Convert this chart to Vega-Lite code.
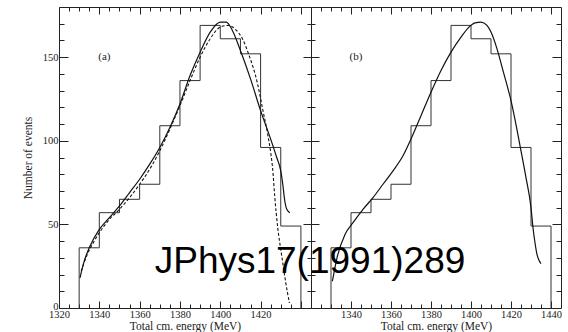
{
  "$schema": "https://vega.github.io/schema/vega-lite/v6.json",
  "background": "white",
  "padding": {"left": 21, "top": 6, "right": 0, "bottom": 0},
  "spacing": 0,
  "bounds": "flush",
  "datasets": {
    "hist": [
      {"E": 1330, "n": 0, "k": 0}, {"E": 1330, "n": 36, "k": 1}, {"E": 1340, "n": 57, "k": 2},
      {"E": 1350, "n": 65, "k": 3}, {"E": 1360, "n": 74, "k": 4}, {"E": 1370, "n": 109, "k": 5},
      {"E": 1380, "n": 136, "k": 6}, {"E": 1390, "n": 169, "k": 7}, {"E": 1400, "n": 161, "k": 8},
      {"E": 1410, "n": 152, "k": 9}, {"E": 1420, "n": 96, "k": 10}, {"E": 1430, "n": 49, "k": 11},
      {"E": 1440, "n": 49, "k": 12}, {"E": 1440, "n": 0, "k": 13}
    ],
    "fitA1": [
      {"E": 1330.4, "n": 18}, {"E": 1332.5, "n": 28}, {"E": 1335, "n": 36}, {"E": 1340, "n": 47},
      {"E": 1345, "n": 54}, {"E": 1350, "n": 61}, {"E": 1355, "n": 69}, {"E": 1360, "n": 77},
      {"E": 1365, "n": 86}, {"E": 1370, "n": 96}, {"E": 1375, "n": 108}, {"E": 1380, "n": 122},
      {"E": 1385, "n": 139}, {"E": 1390, "n": 153}, {"E": 1395, "n": 165}, {"E": 1400, "n": 171},
      {"E": 1403, "n": 171}, {"E": 1406, "n": 166}, {"E": 1410, "n": 154}, {"E": 1415, "n": 137},
      {"E": 1420, "n": 118}, {"E": 1425, "n": 101}, {"E": 1428, "n": 90}, {"E": 1430, "n": 82},
      {"E": 1431, "n": 74}, {"E": 1432, "n": 64}, {"E": 1433, "n": 59}, {"E": 1434.5, "n": 57}
    ],
    "fitA2": [
      {"E": 1331, "n": 22}, {"E": 1334, "n": 32}, {"E": 1337, "n": 39}, {"E": 1340, "n": 45},
      {"E": 1345, "n": 53}, {"E": 1350, "n": 59}, {"E": 1355, "n": 66}, {"E": 1360, "n": 74},
      {"E": 1365, "n": 83}, {"E": 1370, "n": 94}, {"E": 1375, "n": 107}, {"E": 1380, "n": 121},
      {"E": 1385, "n": 136}, {"E": 1390, "n": 150}, {"E": 1395, "n": 161}, {"E": 1400, "n": 168},
      {"E": 1404, "n": 169}, {"E": 1408, "n": 166}, {"E": 1411, "n": 161}, {"E": 1414, "n": 152},
      {"E": 1418.5, "n": 134}, {"E": 1421, "n": 119}, {"E": 1423.5, "n": 104}, {"E": 1425, "n": 93},
      {"E": 1426, "n": 83}, {"E": 1427, "n": 67}, {"E": 1428.5, "n": 48}, {"E": 1430, "n": 35},
      {"E": 1431, "n": 27}, {"E": 1432.5, "n": 15}, {"E": 1434.3, "n": 3}
    ],
    "fitB": [
      {"E": 1330.7, "n": 16}, {"E": 1333, "n": 30}, {"E": 1337, "n": 44}, {"E": 1341, "n": 51},
      {"E": 1346, "n": 59}, {"E": 1351, "n": 66}, {"E": 1356, "n": 74}, {"E": 1361, "n": 82},
      {"E": 1366, "n": 91}, {"E": 1370, "n": 101}, {"E": 1375, "n": 115}, {"E": 1380, "n": 129},
      {"E": 1385, "n": 142}, {"E": 1390, "n": 153}, {"E": 1395, "n": 162}, {"E": 1399, "n": 168},
      {"E": 1402, "n": 170.5}, {"E": 1405, "n": 171}, {"E": 1408, "n": 169}, {"E": 1410, "n": 165},
      {"E": 1413, "n": 155}, {"E": 1416, "n": 142}, {"E": 1420, "n": 124}, {"E": 1425, "n": 94},
      {"E": 1427.5, "n": 78}, {"E": 1430, "n": 60}, {"E": 1431, "n": 48}, {"E": 1432, "n": 39},
      {"E": 1433, "n": 32}, {"E": 1434, "n": 28.5}, {"E": 1435, "n": 26.5}
    ],
    "labA": [{"E": 1342.5, "n": 150, "t": "(a)"}],
    "labB": [{"E": 1342.5, "n": 150, "t": "(b)"}],
    "stamp": [{"E": 1319.5, "n": 21, "t": "JPhys17(1991)289"}]
  },
  "hconcat": [
    {
      "width": 252,
      "height": 301,
      "resolve": {"axis": {"x": "independent", "y": "independent"}},
      "layer": [
        {
          "data": {"name": "hist"},
          "mark": {"type": "line", "interpolate": "step-after", "color": "#333", "strokeWidth": 1},
          "encoding": {
            "x": {"field": "E", "type": "quantitative",
              "scale": {"domain": [1320, 1445], "nice": false, "zero": false},
              "axis": {"orient": "bottom", "format": "d",
                "values": [1320,1325,1330,1335,1340,1345,1350,1355,1360,1365,1370,1375,1380,1385,1390,1395,1400,1405,1410,1415,1420,1425,1430,1435,1440],
                "labelExpr": "datum.value % 20 === 0 && datum.value < 1430 ? datum.label : ''",
                "tickSize": {"condition": {"test": "datum.value % 20 === 0", "value": -7}, "value": -4},
                "labelPadding": 8,
                "title": "Total cm. energy (MeV)", "titlePadding": 0, "minExtent": 12, "maxExtent": 12}},
            "y": {"field": "n", "type": "quantitative",
              "scale": {"domain": [0, 180], "nice": false, "zero": false},
              "axis": {"orient": "left", "format": "d",
                "values": [0,10,20,30,40,50,60,70,80,90,100,110,120,130,140,150,160,170],
                "labelExpr": "datum.value % 50 === 0 ? datum.label : ''",
                "labelBaseline": {"condition": {"test": "datum.value === 0", "value": "alphabetic"}, "value": "middle"},
                "labelOffset": {"condition": {"test": "datum.value === 0", "value": 1}, "value": 0},
                "tickSize": {"condition": {"test": "datum.value % 50 === 0", "value": -9}, "value": -5},
                "labelPadding": 10,
                "title": "Number of events", "titlePadding": 0, "minExtent": 26, "maxExtent": 26}},
            "order": {"field": "k", "type": "quantitative"}
          }
        },
        {
          "data": {"name": "fitA1"},
          "mark": {"type": "line", "interpolate": "monotone", "color": "#111", "strokeWidth": 1.2},
          "encoding": {
            "x": {"field": "E", "type": "quantitative",
              "axis": {"orient": "top",
                "values": [1320,1325,1330,1335,1340,1345,1350,1355,1360,1365,1370,1375,1380,1385,1390,1395,1400,1405,1410,1415,1420,1425,1430,1435,1440],
                "labels": false, "title": null,
                "tickSize": {"condition": {"test": "datum.value % 20 === 0", "value": -7}, "value": -4},
                "minExtent": 0, "maxExtent": 0}},
            "y": {"field": "n", "type": "quantitative",
              "axis": {"orient": "right",
                "values": [10,20,30,40,50,60,70,80,90,100,110,120,130,140,150,160,170],
                "labels": false, "title": null,
                "tickSize": {"condition": {"test": "datum.value % 50 === 0", "value": -8}, "value": -4},
                "minExtent": 0, "maxExtent": 0}}
          }
        },
        {
          "data": {"name": "fitA2"},
          "mark": {"type": "line", "interpolate": "monotone", "color": "#111", "strokeWidth": 1.1, "strokeDash": [3, 2]},
          "encoding": {
            "x": {"field": "E", "type": "quantitative", "axis": null},
            "y": {"field": "n", "type": "quantitative", "axis": null}
          }
        },
        {
          "data": {"name": "labA"},
          "mark": {"type": "text", "font": "Liberation Serif", "fontSize": 11, "color": "#222", "align": "center", "baseline": "middle"},
          "encoding": {
            "x": {"field": "E", "type": "quantitative", "axis": null},
            "y": {"field": "n", "type": "quantitative", "axis": null},
            "text": {"field": "t"}
          }
        }
      ]
    },
    {
      "width": 250,
      "height": 301,
      "resolve": {"axis": {"x": "independent", "y": "independent"}},
      "layer": [
        {
          "data": {"name": "hist"},
          "mark": {"type": "line", "interpolate": "step-after", "color": "#333", "strokeWidth": 1},
          "encoding": {
            "x": {"field": "E", "type": "quantitative",
              "scale": {"domain": [1320, 1445], "nice": false, "zero": false},
              "axis": {"orient": "bottom", "format": "d",
                "values": [1320,1325,1330,1335,1340,1345,1350,1355,1360,1365,1370,1375,1380,1385,1390,1395,1400,1405,1410,1415,1420,1425,1430,1435,1440],
                "labelExpr": "datum.value % 20 === 0 && datum.value > 1330 ? datum.label : ''",
                "tickSize": {"condition": {"test": "datum.value % 20 === 0", "value": -7}, "value": -4},
                "labelPadding": 8,
                "title": "Total cm. energy (MeV)", "titlePadding": 0, "minExtent": 12, "maxExtent": 12}},
            "y": {"field": "n", "type": "quantitative",
              "scale": {"domain": [0, 180], "nice": false, "zero": false},
              "axis": {"orient": "left",
                "values": [10,20,30,40,50,60,70,80,90,100,110,120,130,140,150,160,170],
                "labels": false, "title": null,
                "tickSize": {"condition": {"test": "datum.value % 50 === 0", "value": -8}, "value": -4},
                "minExtent": 0, "maxExtent": 0}},
            "order": {"field": "k", "type": "quantitative"}
          }
        },
        {
          "data": {"name": "fitB"},
          "mark": {"type": "line", "interpolate": "monotone", "color": "#111", "strokeWidth": 1.2},
          "encoding": {
            "x": {"field": "E", "type": "quantitative",
              "axis": {"orient": "top",
                "values": [1320,1325,1330,1335,1340,1345,1350,1355,1360,1365,1370,1375,1380,1385,1390,1395,1400,1405,1410,1415,1420,1425,1430,1435,1440],
                "labels": false, "title": null,
                "tickSize": {"condition": {"test": "datum.value % 20 === 0", "value": -7}, "value": -4},
                "minExtent": 0, "maxExtent": 0}},
            "y": {"field": "n", "type": "quantitative",
              "axis": {"orient": "right",
                "values": [10,20,30,40,50,60,70,80,90,100,110,120,130,140,150,160,170],
                "labels": false, "title": null,
                "tickSize": {"condition": {"test": "datum.value % 50 === 0", "value": -9}, "value": -5},
                "minExtent": 0, "maxExtent": 0}}
          }
        },
        {
          "data": {"name": "labB"},
          "mark": {"type": "text", "font": "Liberation Serif", "fontSize": 11, "color": "#222", "align": "center", "baseline": "middle"},
          "encoding": {
            "x": {"field": "E", "type": "quantitative", "axis": null},
            "y": {"field": "n", "type": "quantitative", "axis": null},
            "text": {"field": "t"}
          }
        },
        {
          "data": {"name": "stamp"},
          "mark": {"type": "text", "font": "Liberation Sans", "fontSize": 37, "color": "#000", "align": "center", "baseline": "alphabetic"},
          "encoding": {
            "x": {"field": "E", "type": "quantitative", "axis": null},
            "y": {"field": "n", "type": "quantitative", "axis": null},
            "text": {"field": "t"}
          }
        }
      ]
    }
  ],
  "config": {
    "view": {"stroke": "#222", "strokeWidth": 1},
    "axis": {
      "domain": false, "grid": false,
      "labelFont": "Liberation Serif", "labelFontSize": 10.5, "labelColor": "#222",
      "tickColor": "#222", "tickWidth": 1,
      "titleFont": "Liberation Serif", "titleFontSize": 11.5, "titleFontWeight": "normal", "titleColor": "#222",
      "labelFlush": false, "labelOverlap": false, "labelBound": false
    }
  }
}
